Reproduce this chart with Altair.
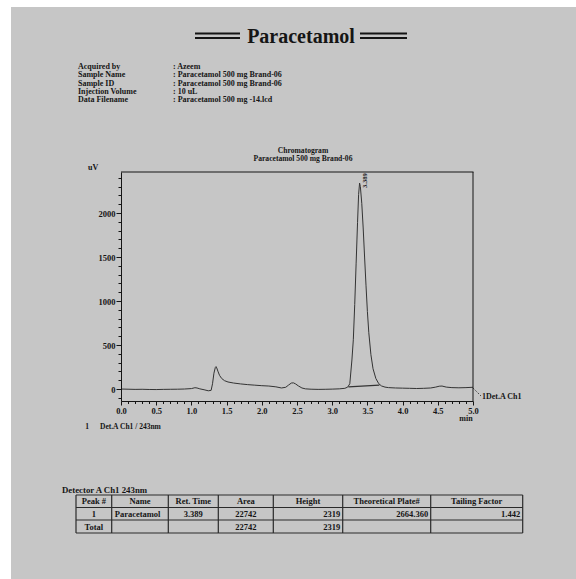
import altair as alt
import pandas as pd

# ---------------- data ----------------
time_min = [0.00, 0.10, 0.20, 0.30, 0.40, 0.50, 0.60, 0.70, 0.80, 0.90,
            1.00, 1.05, 1.08, 1.12, 1.18, 1.24, 1.28, 1.30, 1.32, 1.34, 1.35, 1.36, 1.38, 1.40, 1.43, 1.47, 1.52, 1.60, 1.70, 1.80, 1.90,
            2.00, 2.10, 2.20, 2.28, 2.34, 2.38, 2.42, 2.45, 2.48, 2.52, 2.57, 2.62, 2.70, 2.80, 2.90,
            3.00, 3.10, 3.18, 3.22, 3.25, 3.28, 3.30, 3.32, 3.34, 3.36, 3.375, 3.389, 3.40, 3.42, 3.44, 3.46, 3.48, 3.50, 3.52, 3.55, 3.58, 3.62, 3.66, 3.70, 3.75, 3.80, 3.90,
            4.00, 4.10, 4.20, 4.30, 4.40, 4.47, 4.52, 4.56, 4.62, 4.70, 4.80, 4.90,
            5.00]
signal_uv = [0, -2, -4, -3, -5, -6, -4, -3, -2, 0,
             5, 15, 12, 2, -8, -20, -15, 60, 180, 245, 255, 240, 195, 155, 120, 95, 80, 68, 58, 50, 44,
             38, 34, 25, 12, 20, 45, 68, 70, 58, 35, 12, 2, -2, -4, -3,
             -1, 2, 8, 22, 60, 330, 560, 960, 1430, 1890, 2210, 2340, 2300, 2110, 1830, 1500, 1180, 880, 640, 390, 230, 120, 62, 35, 22, 16, 12,
             10, 8, 6, 8, 12, 22, 32, 34, 22, 16, 14, 16,
             20]
baseline_t = [3.23, 3.67]
baseline_uv = [25, 45]
peak_rt = [3.389]
peak_h = [2319]
peak_lbl = ["3.389"]

x_ticks = [round(i * 0.1, 1) for i in range(51)]
y_ticks = list(range(-100, 2500, 100))

doc_title = "Paracetamol"
header_labels = ["Acquired by", "Sample Name", "Sample ID", "Injection Volume", "Data Filename"]
header_values = [": Azeem", ": Paracetamol 500 mg Brand-06", ": Paracetamol 500 mg Brand-06",
                 ": 10 uL", ": Paracetamol 500 mg -14.lcd"]
chart_title = ["Chromatogram", "Paracetamol 500 mg Brand-06"]
y_unit = "uV"
x_unit = "min"
trace_name = "1Det.A Ch1"
legend_num = "1"
legend_text = "Det.A Ch1 / 243nm"
table_caption = "Detector A Ch1 243nm"
table_header = ["Peak #", "Name", "Ret. Time", "Area", "Height", "Theoretical Plate#", "Tailing Factor"]
table_row1 = ["1", "Paracetamol", "3.389", "22742", "2319", "2664.360", "1.442"]
table_total = ["Total", "", "", "22742", "2319", "", ""]

# ---------------- layout / style ----------------
OX, OY = 121, 172          # plot origin in page pixels
W, H = 352, 229
FONT = "Liberation Serif"
INK = "#151515"
BG = "#c6c6c6"
col_edges = [76, 111.7, 168.3, 218.3, 273.3, 342.7, 430.7, 522.7]
row_edges = [495, 507.5, 520, 533]
row1_align = ["center", "left", "center", "center", "right", "right", "right"]

one = pd.DataFrame({"k": [0]})


def txt(text, ax, ay, size=8.5, align="left", baseline="middle", weight="bold"):
    return alt.Chart(one).mark_text(
        text=text, align=align, baseline=baseline, fontSize=size,
        fontWeight=weight, font=FONT, color=INK
    ).encode(x=alt.value(ax - OX), y=alt.value(ay - OY))


def rule(x1, y1, x2, y2, w=1.0, color=INK, dash=None):
    kw = dict(strokeWidth=w, color=color)
    if dash:
        kw["strokeDash"] = dash
    return alt.Chart(one).mark_rule(**kw).encode(
        x=alt.value(x1 - OX), y=alt.value(y1 - OY),
        x2=alt.value(x2 - OX), y2=alt.value(y2 - OY))


def rect(x1, y1, x2, y2, color):
    return alt.Chart(one).mark_rect(color=color).encode(
        x=alt.value(x1 - OX), y=alt.value(y1 - OY),
        x2=alt.value(x2 - OX), y2=alt.value(y2 - OY))


half_test = "abs(datum.value*2 - round(datum.value*2)) < 0.001"
xaxis = alt.Axis(
    values=x_ticks, title=None, grid=False,
    labelExpr=f"{half_test} ? format(datum.value, '.1f') : ''",
    tickSize={"condition": {"test": half_test, "value": 4}, "value": 2.5},
    labelFont=FONT, labelFontWeight="bold", labelFontSize=8.5, labelColor=INK,
    labelPadding=1, labelOverlap=False, labelFlush=False,
    domainColor=INK, tickColor=INK, domainWidth=1, tickWidth=1, zindex=1)
yaxis = alt.Axis(
    values=y_ticks, title=None, grid=False,
    labelExpr="datum.value % 500 === 0 ? format(datum.value, 'd') : ''",
    tickSize={"condition": {"test": "datum.value % 500 === 0", "value": 5}, "value": 3},
    labelFont=FONT, labelFontWeight="bold", labelFontSize=8.5, labelColor=INK,
    labelPadding=1, labelOverlap=False, labelFlush=False,
    domainColor=INK, tickColor=INK, domainWidth=1, tickWidth=1, zindex=1)

X = alt.X("t:Q", scale=alt.Scale(domain=[0, 5], nice=False, zero=False), axis=xaxis)
Y = alt.Y("v:Q", scale=alt.Scale(domain=[-136, 2466], nice=False, zero=False), axis=yaxis)

trace = alt.Chart(pd.DataFrame({"t": time_min, "v": signal_uv})).mark_line(
    color="#333333", strokeWidth=1).encode(x=X, y=Y)
base = alt.Chart(pd.DataFrame({"t": baseline_t, "v": baseline_uv})).mark_line(
    color="#333333", strokeWidth=1.2).encode(x=X, y=Y)
plabel = alt.Chart(pd.DataFrame({"t": peak_rt, "v": peak_h, "s": peak_lbl})).mark_text(
    angle=270, align="left", baseline="middle", dx=-3, dy=5, fontSize=6.5,
    fontWeight="bold", font=FONT, color=INK).encode(x=X, y=Y, text="s:N")

layers = [
    rect(0, 0, 11, 579, "white"),
    rect(0, 0, 576, 7, "white"),
    trace, base, plabel,
    rule(OX, OY, OX + W + 0.5, OY, 1),
    rule(OX + W, OY, OX + W, OY + H, 1),
]

# page title with double bars
layers += [
    rule(195, 33.5, 240, 33.5, 2), rule(195, 38, 240, 38, 2),
    rule(360, 33.5, 407, 33.5, 2), rule(360, 38, 407, 38, 2),
    txt(doc_title, 301, 43, size=20, align="center", baseline="alphabetic"),
]

# header block
for i, (lab, val) in enumerate(zip(header_labels, header_values)):
    yy = 67 + i * 8.3
    layers.append(txt(lab, 78, yy, size=8))
    layers.append(txt(val, 173, yy, size=8))

# chart titles and annotations
layers += [
    txt(chart_title[0], 303, 151, size=7.6, align="center"),
    txt(chart_title[1], 303, 159, size=7.6, align="center"),
    txt(y_unit, 88, 168, size=8),
    txt(x_unit, 466, 419, size=8, align="center"),
    rule(473, 388, 481, 396, 1, dash=[1, 1.5]),
    txt(trace_name, 482, 397, size=8),
    txt(legend_num, 87, 427, size=7.5, align="center"),
    txt(legend_text, 100, 427, size=7.5),
    txt(table_caption, 62, 490, size=8.8),
]

# results table
for yy in row_edges:
    layers.append(rule(col_edges[0], yy, col_edges[-1], yy, 1.2, "#2a2a2a"))
for xx in col_edges:
    layers.append(rule(xx, row_edges[0], xx, row_edges[-1], 1.2, "#2a2a2a"))


def cell(text, ci, ri, align):
    if not text:
        return None
    yy = (row_edges[ri] + row_edges[ri + 1]) / 2
    if align == "center":
        xx = (col_edges[ci] + col_edges[ci + 1]) / 2
    elif align == "left":
        xx = col_edges[ci] + 3
    else:
        xx = col_edges[ci + 1] - 2.5
    return txt(text, xx, yy, size=8.5, align=align)


for ci, h in enumerate(table_header):
    layers.append(cell(h, ci, 0, "center"))
for ci, v in enumerate(table_row1):
    layers.append(cell(v, ci, 1, row1_align[ci]))
for ci, v in enumerate(table_total):
    layers.append(cell(v, ci, 2, row1_align[ci]))
layers = [l for l in layers if l is not None]

chart = alt.layer(*layers).properties(
    width=W, height=H,
    padding={"left": OX, "top": OY, "right": 576 - OX - W, "bottom": 579 - OY - H},
    autosize=alt.AutoSizeParams(type="none"),
    background=BG,
).configure_view(stroke=None)

chart.save("out.html", embed_options={"renderer": "svg", "actions": False})
